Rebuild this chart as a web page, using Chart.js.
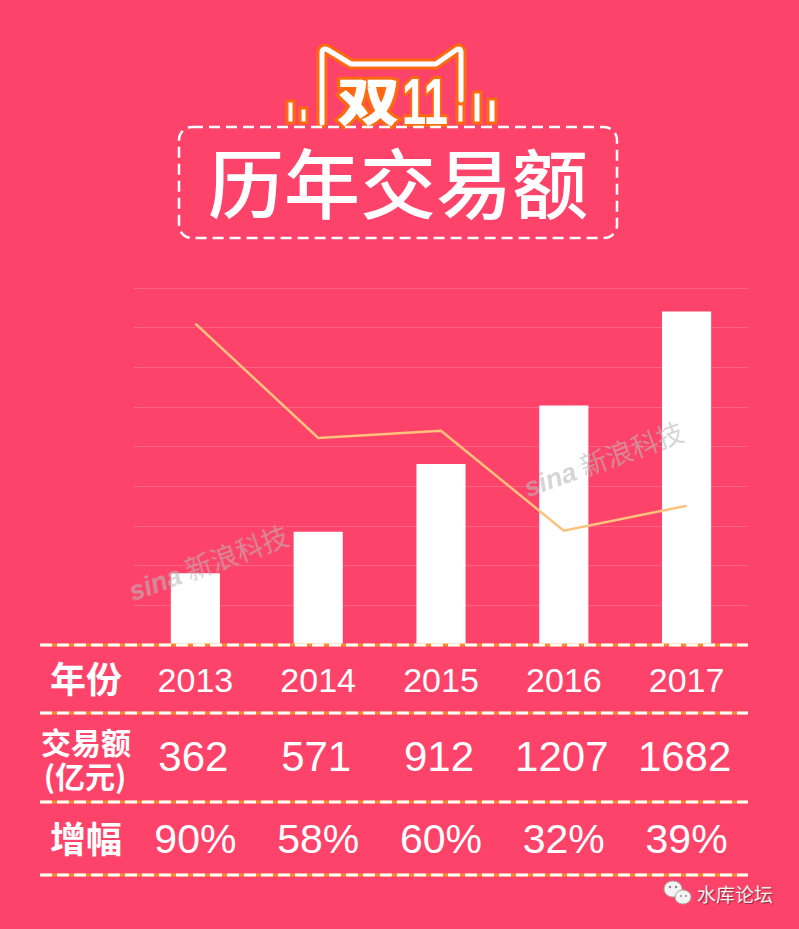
<!DOCTYPE html>
<html><head><meta charset="utf-8">
<script src="https://cdn.jsdelivr.net/npm/chart.js@4"></script>
<style>
html,body{margin:0;padding:0;}
body{width:799px;height:929px;background:#fe436a;position:relative;overflow:hidden;font-family:"Noto Sans CJK SC","Liberation Sans",sans-serif;}
.t{position:absolute;white-space:nowrap;line-height:1;transform:translate(-50%,-50%);color:#fff;}
#box{position:absolute;left:134px;top:286px;width:614px;height:361px;}
svg{position:absolute;left:0;top:0;}
.wm{position:absolute;white-space:nowrap;color:rgba(185,185,185,0.6);font-size:27px;transform:translate(-50%,-50%) rotate(-20deg);}
</style></head>
<body>
<script>
// ---- data ----
const years = ['2013','2014','2015','2016','2017'];
const amounts = [362, 571, 912, 1207, 1682];      // 交易额 (亿元)
const growth = [90, 58, 60, 32, 39];               // 增幅 %
const growthLabels = ['90%','58%','60%','32%','39%'];
const yTicks = {min:0, max:1800, step:200};
</script>

<svg width="799" height="929" style="z-index:3;pointer-events:none">
  <!-- logo side bars -->
  <g fill="#fff" stroke="#ff6a10" stroke-width="3">
    <rect x="287" y="101" width="7" height="22"/>
    <rect x="300" y="108" width="7" height="15"/>
    <rect x="457" y="99" width="7" height="24"/>
    <rect x="473" y="92" width="8" height="31"/>
    <rect x="488" y="99" width="8" height="24"/>
  </g>
  <!-- cat outline -->
  <path d="M322,123 L322,53 Q322,47 328,50 L351,64 L436,64 L456,50 Q461,47 461,53 L461,100" fill="none" stroke="#ff6a10" stroke-width="11" stroke-linejoin="round" stroke-linecap="round"/>
  <path d="M322,123 L322,53 Q322,47 328,50 L351,64 L436,64 L456,50 Q461,47 461,53 L461,100" fill="none" stroke="#fff" stroke-width="5" stroke-linejoin="round" stroke-linecap="round"/>
  <text x="337" y="121" font-family="Noto Sans CJK SC" font-weight="900" font-size="52" textLength="63" lengthAdjust="spacingAndGlyphs" fill="#fff" stroke="#ff6a10" stroke-width="6" paint-order="stroke" stroke-linejoin="round">双</text>
  <text x="402" y="124" font-family="Liberation Sans" font-weight="700" font-size="64" textLength="46" lengthAdjust="spacingAndGlyphs" fill="#fff" stroke="#ff6a10" stroke-width="6" paint-order="stroke" stroke-linejoin="round">11</text>
  <!-- title box -->
  <rect x="179" y="127" width="438" height="111" rx="13" fill="none" stroke="#fff" stroke-width="2.5" stroke-dasharray="11 6"/>
  <!-- table lines -->
  <g id="tlines"></g>
  <!-- wechat icon -->
  <ellipse cx="673" cy="889" rx="9" ry="8" fill="#f4f4f4" stroke="#aaa" stroke-width="1"/>
  <ellipse cx="683" cy="897" rx="8" ry="7" fill="#f4f4f4" stroke="#aaa" stroke-width="1"/>
  <circle cx="670" cy="887" r="1.2" fill="#888"/><circle cx="676" cy="887" r="1.2" fill="#888"/>
  <circle cx="681" cy="896" r="1" fill="#888"/><circle cx="686" cy="896" r="1" fill="#888"/>
</svg>

<div class="t" style="left:398px;top:180px;font-size:76px;font-weight:500;">历年交易额</div>

<div id="box"><canvas id="c"></canvas></div>

<div class="wm" style="left:208px;top:562px;z-index:2"><i style="font-family:'Liberation Sans';font-weight:700">sina</i> 新浪科技</div>
<div class="wm" style="left:603px;top:458px;z-index:2"><i style="font-family:'Liberation Sans';font-weight:700">sina</i> 新浪科技</div>

<div class="t" style="left:86px;top:677px;font-size:36px;font-weight:700;">年份</div>
<div class="t" style="left:86px;top:741px;font-size:30px;font-weight:700;">交易额</div>
<div class="t" style="left:85px;top:775px;font-size:30px;font-weight:700;">(亿元)</div>
<div class="t" style="left:86px;top:837px;font-size:36px;font-weight:700;">增幅</div>

<div class="t" style="left:735px;top:893px;font-size:19px;color:#f2f2f2;text-shadow:1px 1px 1px rgba(0,0,0,0.45);transform:translate(-50%,-50%)">水库论坛</div>

<script>
// table dashed lines
const tl = document.getElementById('tlines');
[645, 713, 802, 875].forEach(y => {
  tl.insertAdjacentHTML('beforeend',
    `<line x1="40" y1="${y}" x2="748" y2="${y}" stroke="#ff8a2a" stroke-width="3"/>` +
    `<line x1="40" y1="${y}" x2="748" y2="${y}" stroke="#fff" stroke-width="3" stroke-dasharray="12 5"/>`);
});

const chart = new Chart(document.getElementById('c'), {
  data: {
    labels: years,
    datasets: [
      {type:'line', data: growth, yAxisID:'y2', borderColor:'#ffc27d', borderWidth:2.5,
       pointRadius:0, tension:0, order:0},
      {type:'bar', data: amounts, yAxisID:'y', backgroundColor:'#ffffff',
       barPercentage:0.4, categoryPercentage:1, order:1}
    ]
  },
  options: {
    responsive:true, maintainAspectRatio:false, animation:false,
    layout:{padding:{top:2,bottom:2,left:0,right:0}},
    plugins:{legend:{display:false}, tooltip:{enabled:false}},
    scales:{
      x:{display:false, offset:true},
      y:{min:yTicks.min, max:yTicks.max, ticks:{display:false, stepSize:yTicks.step},
         grid:{color:'rgba(255,255,255,0.16)', drawTicks:false, lineWidth:1},
         border:{display:false}},
      y2:{display:false, min:0, max:100, position:'right'}
    }
  }
});

// table values aligned to the chart's category centers
const box = document.getElementById('box');
const ox = box.offsetLeft;
function addText(txt, cx, cy, size){
  const d = document.createElement('div');
  d.className='t';
  d.style.cssText = `left:${cx}px;top:${cy}px;font-size:${size}px;font-family:'Liberation Sans',sans-serif;`;
  d.textContent = txt;
  document.body.appendChild(d);
}
years.forEach((y,i) => {
  const cx = ox + chart.scales.x.getPixelForValue(i);
  addText(y, cx, 680, 34);
  addText(String(amounts[i]), cx - 2, 757, 42);
  addText(growthLabels[i], cx, 839, 41);
});
</script>
</body></html>
